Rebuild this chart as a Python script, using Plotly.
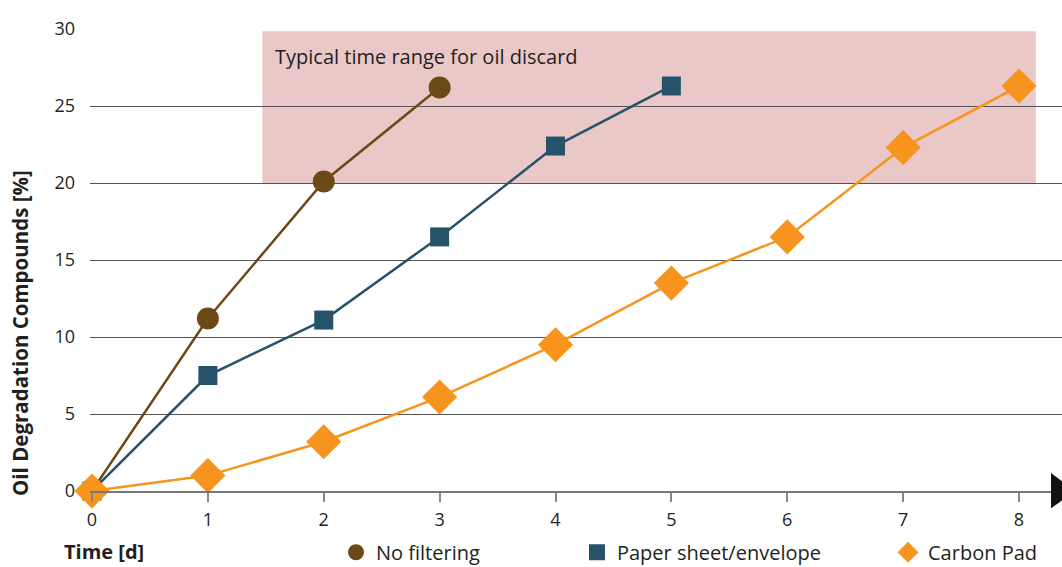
import plotly.graph_objects as go

# ---- data ----
days_none = [0, 1, 2, 3]
vals_none = [0, 11.2, 20.1, 26.2]

days_paper = [0, 1, 2, 3, 4, 5]
vals_paper = [0, 7.5, 11.1, 16.5, 22.4, 26.3]

days_carbon = [0, 1, 2, 3, 4, 5, 6, 7, 8]
vals_carbon = [0, 1.0, 3.2, 6.1, 9.5, 13.5, 16.5, 22.3, 26.3]

series_names = ["No filtering", "Paper sheet/envelope", "Carbon Pad"]
x_ticks = [0, 1, 2, 3, 4, 5, 6, 7, 8]
y_ticks = [0, 5, 10, 15, 20, 25, 30]
discard_range_x = [1.47, 8.145]
discard_range_y = [20, 29.85]

FONT = "Open Sans"
TXT = "#231f20"
C_NONE = "#6b4a16"
C_PAPER = "#27536a"
C_CARBON = "#f7941d"

series = [
    (days_none, vals_none, series_names[0], C_NONE, "circle", 22, "legend"),
    (days_paper, vals_paper, series_names[1], C_PAPER, "square", 19, "legend2"),
    (days_carbon, vals_carbon, series_names[2], C_CARBON, "diamond", 27, "legend3"),
]

fig = go.Figure()

for xs, ys, name, col, sym, sz, leg in series:
    fig.add_trace(go.Scatter(
        x=xs, y=ys, name=name, mode="lines+markers",
        line=dict(color=col, width=2.5),
        marker=dict(symbol=sym, size=sz, color=col),
        cliponaxis=False, showlegend=False,
    ))
for xs, ys, name, col, sym, sz, leg in series:
    # legend entry: marker only, like the reference
    fig.add_trace(go.Scatter(
        x=[None], y=[None], name=name, mode="markers",
        marker=dict(symbol=sym, size=sz, color=col),
        showlegend=True, legend=leg,
    ))

# shaded discard range
fig.add_shape(type="rect", xref="x", yref="y",
              x0=discard_range_x[0], x1=discard_range_x[1],
              y0=discard_range_y[0], y1=discard_range_y[1],
              fillcolor="#ebc8c8", line=dict(width=0), layer="below")

fig.add_annotation(x=discard_range_x[0] + 0.09, y=28.2, xref="x", yref="y",
                   text="Typical time range for oil discard", showarrow=False,
                   xanchor="left", yanchor="middle",
                   font=dict(family=FONT, size=20, color=TXT))

# arrow head at the end of the x axis (paper coordinates, not clipped)
fig.add_shape(type="path", xref="paper", yref="paper",
              path="M 0.9887 0.039 L 1.0134 0 L 0.9887 -0.0375 Z",
              fillcolor="#111111", line=dict(width=0), layer="above")

# axis titles
fig.add_annotation(x=-0.072, y=0.342, xref="paper", yref="paper",
                   text="<b>Oil Degradation Compounds [%]</b>", textangle=-90,
                   showarrow=False, xanchor="center", yanchor="middle",
                   font=dict(family=FONT, size=20.5, color=TXT))
fig.add_annotation(x=-0.0288, y=-0.13, xref="paper", yref="paper",
                   text="<b>Time [d]</b>", showarrow=False,
                   xanchor="left", yanchor="middle",
                   font=dict(family=FONT, size=20, color=TXT))

legend_common = dict(orientation="h", yref="container", yanchor="middle",
                     y=0.026, xanchor="left", bgcolor="rgba(0,0,0,0)",
                     borderwidth=0,
                     font=dict(family=FONT, size=20, color=TXT))

fig.update_layout(
    width=1062, height=567,
    margin=dict(l=90, r=0, t=29, b=76, autoexpand=False),
    paper_bgcolor="white", plot_bgcolor="white",
    font=dict(family=FONT, color=TXT),
    showlegend=True,
    legend=dict(x=0.2531, **legend_common),
    legend2=dict(x=0.501, **legend_common),
    legend3=dict(x=0.821, **legend_common),
    xaxis=dict(range=[-0.0173, 8.371], tickvals=x_ticks,
               showgrid=False, zeroline=False,
               showline=True, linecolor="#777777", linewidth=1.5,
               ticks="outside", ticklen=9, tickwidth=1.5, tickcolor="#888888",
               ticklabelstandoff=3,
               tickfont=dict(family=FONT, size=18, color=TXT)),
    yaxis=dict(range=[0, 30], tickvals=y_ticks,
               showgrid=True, gridcolor="#555555", gridwidth=1.2,
               zeroline=False, showline=False, ticks="",
               ticklabelstandoff=14,
               tickfont=dict(family=FONT, size=18, color=TXT)),
)

# remove the default page margin so the figure fills the window exactly
fig.write_html(
    "out.html",
    config={"displayModeBar": False},
    post_script="document.body.style.margin='0';document.body.style.overflow='hidden';",
)
